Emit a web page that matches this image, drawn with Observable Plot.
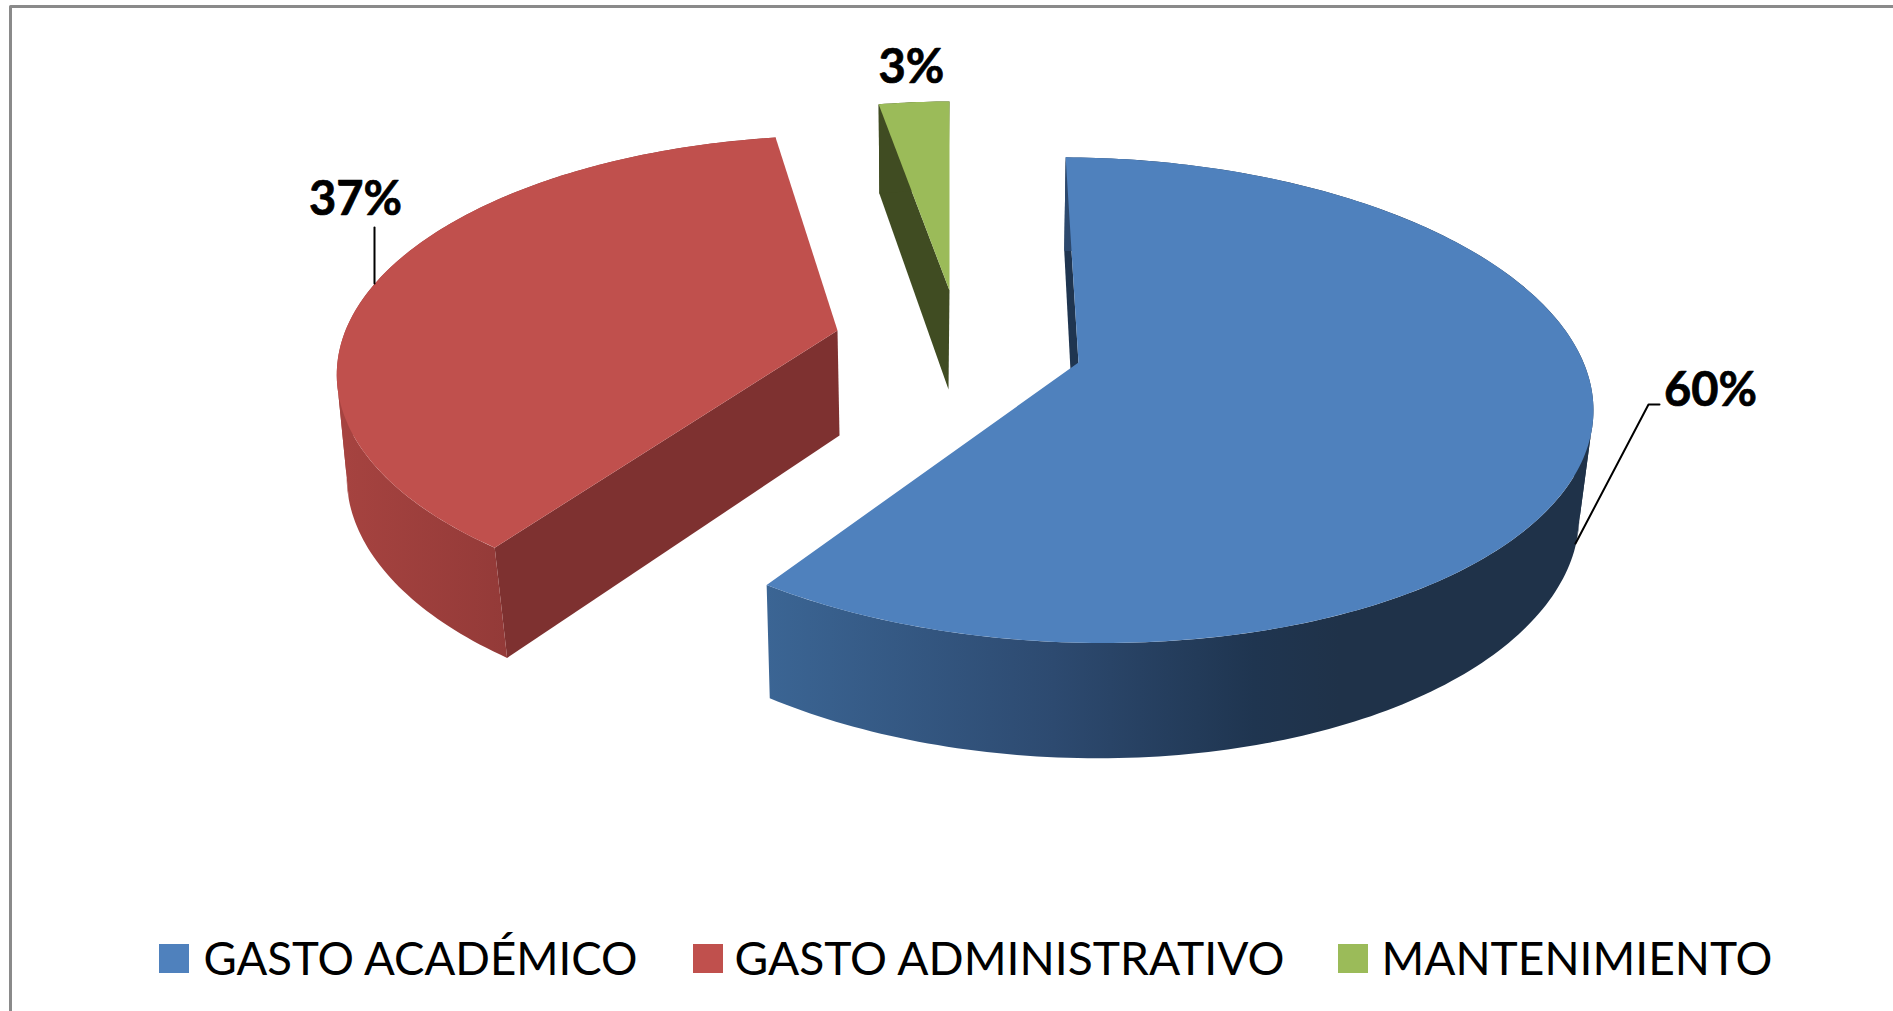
<!DOCTYPE html>
<html>
<head>
<meta charset="utf-8">
<style>html,body{margin:0;padding:0;background:#fff;overflow:hidden}svg{display:block;max-width:none}</style>
<script src="https://cdn.jsdelivr.net/npm/d3@7"></script>
<script src="https://cdn.jsdelivr.net/npm/@observablehq/plot@0.6"></script>
</head>
<body>
<script>
// Data
const categories = ["GASTO ACADÉMICO", "GASTO ADMINISTRATIVO", "MANTENIMIENTO"];
const shares = [59.52, 37.48, 3.0];
const topColors = ["#4f81bd", "#c0504d", "#9bbb59"];
const faceColors = ["#1f3550", "#7e3130", "#404c22"];

// Perspective pose of each exploded slice (top disc and lower disc)
const startAngles = [0.7, 216.2, -10.8];
const topPose = [
  {x0: 1078, y0: 362, A: 505, B: 237, k: 0.155, S: -21},
  {x0: 837, y0: 330, A: 492, B: 230, k: 0.18, S: 3},
  {x0: 949, y0: 290, A: 445, B: 223, k: 0.18, S: 0}
];
const lowPose = [
  {x0: 1075, y0: 466, A: 495, B: 248, k: 0.15, S: -19},
  {x0: 839, y0: 435, A: 486, B: 240, k: 0.16, S: 3},
  {x0: 948, y0: 389, A: 427, B: 231, k: 0.16, S: 0}
];

const W = 1893, H = 1011;
function pt(p, deg) {
  const r = deg * Math.PI / 180, u = Math.sin(r), v = Math.cos(r), w = 1 + p.k * v;
  return {x: p.x0 + (p.A * u + p.S * v) / w, y: p.y0 - p.B * v / w};
}
const sweep = (a0, a1) => {
  const n = Math.max(2, Math.ceil(a1 - a0));
  return d3.range(n + 1).map(j => a0 + (a1 - a0) * j / n);
};
function slice(i) {
  const a0 = startAngles[i], a1 = a0 + shares[i] * 3.6;
  const top = [{x: topPose[i].x0, y: topPose[i].y0}, ...sweep(a0, a1).map(a => pt(topPose[i], a))];
  const face = [
    {x: topPose[i].x0, y: topPose[i].y0}, pt(topPose[i], a0),
    pt(lowPose[i], a0), {x: lowPose[i].x0, y: lowPose[i].y0}
  ];
  // wall: one band between each pair of silhouette angles, so no band folds over itself
  const cuts = [a0, ...[107, 255].filter(c => c > a0 && c < a1), a1];
  const wall = [];
  d3.pairs(cuts).forEach(([b0, b1], band) => {
    const s = sweep(b0, b1);
    s.forEach(a => wall.push({...pt(topPose[i], a), band}));
    s.slice().reverse().forEach(a => wall.push({...pt(lowPose[i], a), band}));
  });
  return {top, face, wall};
}
const poly = (d, fill) => Plot.line(d, {x: "x", y: "y", fill, stroke: "none", curve: "linear-closed"});
const sliceMarks = i => {
  const s = slice(i);
  const wallFill = ["url(#wallBlue)", "url(#wallRed)", faceColors[2]][i];
  return [
    poly(s.face, faceColors[i]),
    Plot.line(s.wall, {x: "x", y: "y", z: "band", fill: wallFill, stroke: "none", curve: "linear-closed"}),
    poly(s.top, topColors[i])
  ];
};
function defs() {
  const d = d3.create("svg:defs");
  const grad = (id, x1, x2, stops) => {
    const g = d.append("linearGradient").attr("id", id).attr("gradientUnits", "userSpaceOnUse")
      .attr("x1", x1).attr("x2", x2).attr("y1", 0).attr("y2", 0);
    stops.forEach(([o, c]) => g.append("stop").attr("offset", o).attr("stop-color", c));
  };
  grad("wallBlue", 766, 1340, [[0, "#3b6594"], [0.5, "#2d4a70"], [0.85, "#1f3550"], [1, "#1f3249"]]);
  grad("wallRed", 340, 510, [[0, "#a64340"], [1, "#933a38"]]);
  return d.node();
}

// Labels and layout
const pct = shares.map(s => Math.round(s) + "%");
const valueLabels = [
  {t: pct[0], x: 1710, y: 405},
  {t: pct[1], x: 355, y: 214},
  {t: pct[2], x: 911, y: 82}
];
const legend = categories.map((c, i) => ({
  c, color: topColors[i],
  x1: [159, 693, 1338][i], tx: [203, 734, 1381][i], len: [434, 550, 391][i], y1: 944, y2: 973, by: 974
}));
const frame = [{x: 10, y: 1011}, {x: 10, y: 6}, {x: 1893, y: 6}];
const leaders = [
  [{x: 1575, y: 543}, {x: 1648, y: 404}, {x: 1659, y: 404}],
  [{x: 374, y: 227}, {x: 374, y: 283}]
];

const chart = Plot.plot({
  width: W, height: H, margin: 0,
  x: {domain: [0, W], range: [0, W], axis: null},
  y: {domain: [0, H], range: [0, H], axis: null},
  style: {background: "#fff"},
  marks: [
    defs,
    Plot.line(frame, {x: "x", y: "y", stroke: "#8a8a8a", strokeWidth: 3}),
    ...sliceMarks(1),
    ...sliceMarks(2),
    ...sliceMarks(0),
    ...leaders.map(l => Plot.line(l, {x: "x", y: "y", stroke: "#000", strokeWidth: 2})),
    Plot.text(valueLabels, {x: "x", y: "y", text: "t", lineAnchor: "bottom", textAnchor: "middle",
      fontFamily: "Lato", fontWeight: "bold", fontSize: 47, fill: "#000", stroke: "#000", strokeWidth: 0.7}),
    Plot.rect(legend, {x1: "x1", x2: d => d.x1 + 30, y1: "y1", y2: "y2", fill: "color"}),
    Plot.text(legend, {x: "tx", y: "by", text: "c", lineAnchor: "bottom", textAnchor: "start",
      fontFamily: "Lato", fontSize: 46, fill: "#000"})
  ]
});
d3.select(chart).selectAll("text").each(function () {
  const e = legend.find(l => l.c === this.textContent);
  if (e) d3.select(this).attr("textLength", e.len).attr("lengthAdjust", "spacingAndGlyphs");
});
document.body.appendChild(chart);
</script>
</body>
</html>
